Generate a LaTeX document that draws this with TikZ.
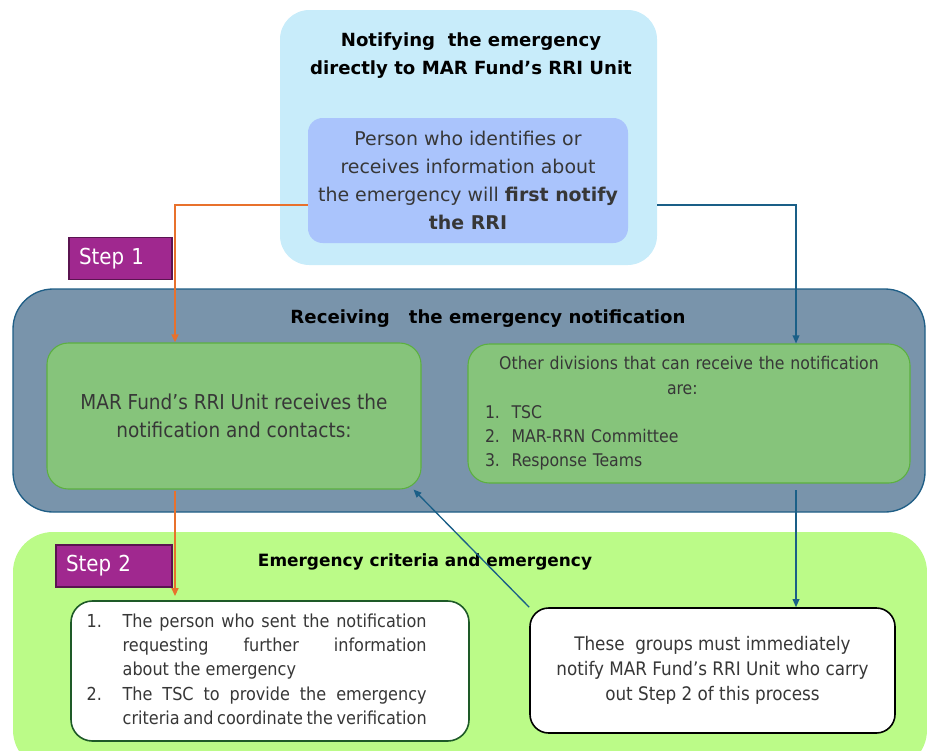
\documentclass[tikz,border=0pt]{standalone}
\usepackage{fontspec}
\setmainfont{DejaVu Sans Condensed}
\newfontfamily\widefont{DejaVu Sans}
\usetikzlibrary{arrows.meta}

\definecolor{skyfill}{RGB}{200,236,250}
\definecolor{lilacfill}{RGB}{170,196,252}
\definecolor{stepfill}{RGB}{160,40,143}
\definecolor{stepdraw}{RGB}{90,20,80}
\definecolor{slatefill}{RGB}{121,148,171}
\definecolor{slatedraw}{RGB}{31,94,134}
\definecolor{leaffill}{RGB}{134,196,123}
\definecolor{leafdraw}{RGB}{92,176,64}
\definecolor{limefill}{RGB}{187,251,136}
\definecolor{pinedraw}{RGB}{30,90,40}
\definecolor{orangeln}{RGB}{232,113,44}
\definecolor{blueln}{RGB}{26,95,135}
\definecolor{inktext}{RGB}{55,55,55}

\tikzset{
  stagebox/.style={rounded corners=#1, inner sep=0pt},
  stepbox/.style={draw=stepdraw, line width=1pt, fill=stepfill, text=white,
    font=\fontsize{16.5}{18}\selectfont, text width=#1, align=left, inner xsep=7.5pt,
    minimum height=31.5pt, inner ysep=0pt},
  leafbox/.style={draw=leafdraw, line width=0.8pt, fill=leaffill, rounded corners=16pt,
    text=inktext, inner sep=0pt},
  whitebox/.style={fill=white, line width=1.2pt, rounded corners=14pt, text=inktext, inner sep=0pt},
  headtext/.style={font=\widefont\bfseries\fontsize{13.6}{21}\selectfont, align=center},
  orangearr/.style={draw=orangeln, line width=1.5pt, -{Triangle[length=6pt,width=5pt]}},
  bluearr/.style={draw=blueln, line width=1pt, -{Triangle[length=6pt,width=5pt]}}
}

\begin{document}
\hyphenpenalty=10000
\exhyphenpenalty=10000
\begin{tikzpicture}[x=0.75pt,y=0.75pt,yscale=-1,xscale=1]
\useasboundingbox (0,0) rectangle (927,750);

% containers
\node [stagebox=22pt, fill=skyfill, minimum width=282.75pt, minimum height=191.25pt] (topbox) at (468.5,137.5) {};
\node [stagebox=30pt, fill=slatefill, draw=slatedraw, line width=1pt, minimum width=684pt, minimum height=167.25pt] (recvbox) at (469,400.5) {};
\node [stagebox=30pt, fill=limefill, minimum width=685.5pt, minimum height=178.5pt] (critbox) at (470,651) {};

% titles
\node [headtext] (toptitle) at (471,56) {Notifying\ \ the emergency\\directly to MAR Fund’s RRI Unit};
\node [headtext] (recvtitle) at (488,319) {Receiving\ \ \ the emergency notification};
\node [headtext, font=\widefont\bfseries\fontsize{12.7}{20}\selectfont] (crittitle) at (425,562) {Emergency criteria and emergency};

% inner boxes
\node [stagebox=11pt, fill=lilacfill, minimum width=240pt, minimum height=93.75pt, text=inktext,
  font=\widefont\fontsize{14.2}{21}\selectfont, align=center] (notify) at (468,180.5)
  {Person who identifies or\\receives information about\\the emergency will \textbf{first notify}\\\textbf{the RRI}};
\node [leafbox, minimum width=280.5pt, minimum height=109.5pt, font=\fontsize{15.4}{20.5}\selectfont, align=center] (rri) at (234,416)
  {MAR Fund’s RRI Unit receives the\\notification and contacts:};
\node [leafbox, minimum width=331.5pt, minimum height=104.25pt, font=\fontsize{13.1}{18.2}\selectfont, text width=306pt] (others) at (689,413.5)
  {\centering Other divisions that can receive the notification\hspace*{10pt}\\are:\hspace*{10pt}\par
   \raggedright 1.\ \ TSC\\2.\ \ MAR-RRN Committee\\3.\ \ Response Teams\par};
\node [whitebox, draw=pinedraw, rounded corners=16pt, minimum width=298.5pt, minimum height=105pt,
  font=\fontsize{13.4}{18.2}\selectfont] (contacts) at (270,671)
  {\begin{tabular}{@{}p{27pt}@{}p{228pt}@{}}
   1. & The person who sent the notification\linebreak requesting further information\linebreak about the emergency\\
   2. & The TSC to provide the emergency\linebreak criteria and coordinate the verification
   \end{tabular}\hspace*{20pt}};
\node [whitebox, draw=black, minimum width=273.75pt, minimum height=93.75pt, font=\fontsize{14}{18.5}\selectfont, align=center] (groups) at (712.5,670.5)
  {These\ \ groups must immediately\\notify MAR Fund’s RRI Unit who carry\\out Step 2 of this process};

% step tags
\node [stepbox=62.25pt] (step1) at (120.5,258.5) {Step 1};
\node [stepbox=72pt] (step2) at (114,566) {Step 2};

% connectors
\coordinate (obend) at (175,205);
\coordinate (bbend) at (796,205);
\draw [orangearr] (notify.west |- obend) -- (obend) -- (obend |- rri.north);
\draw [orangearr] ([yshift=1pt]obend |- rri.south) -- ([yshift=-3pt]obend |- contacts.north);
\draw [bluearr] (topbox.east |- bbend) -- (bbend) -- (bbend |- others.north);
\draw [bluearr] ([yshift=5pt]bbend |- others.south) -- (bbend |- groups.north);
\draw [bluearr] (groups.north west) -- ([xshift=-6pt]rri.south east);

\end{tikzpicture}
\end{document}
